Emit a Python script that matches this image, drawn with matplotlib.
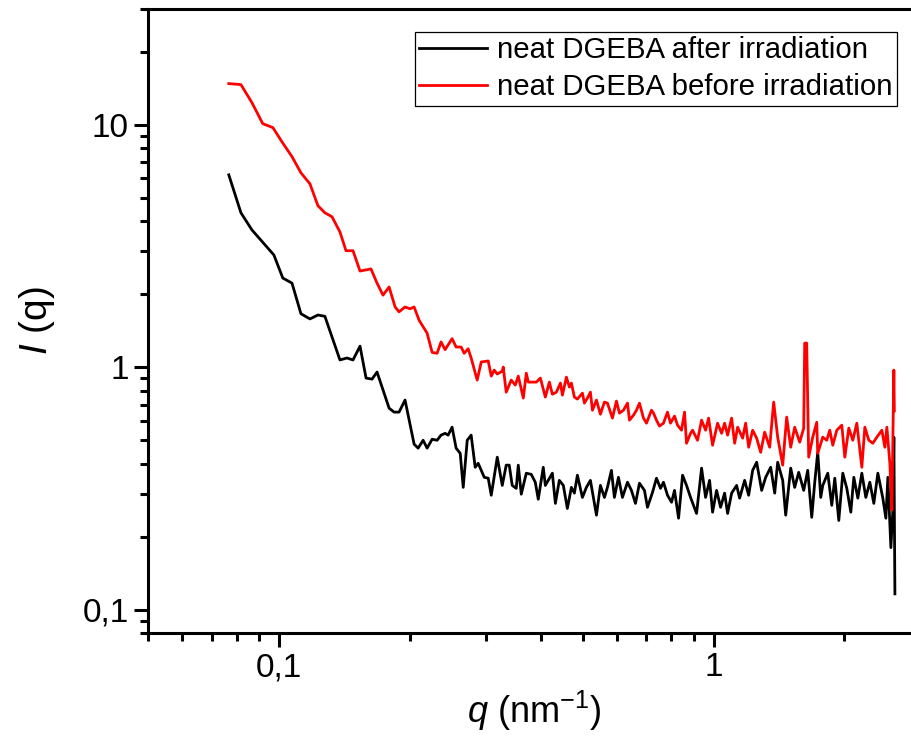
import matplotlib
matplotlib.use('Agg')
import matplotlib.pyplot as plt
import matplotlib.ticker as ticker

plt.rcParams['font.family'] = ['Liberation Sans', 'DejaVu Sans']
plt.rcParams['mathtext.fontset'] = 'custom'
plt.rcParams['mathtext.rm'] = 'Liberation Sans'
plt.rcParams['mathtext.it'] = 'Liberation Sans:italic'

# neat DGEBA after irradiation (black)
q_after = [0.0767, 0.0818, 0.0867, 0.0974, 0.1021, 0.1072, 0.1124, 0.1179, 0.1230, 0.1276,
           0.1325, 0.1382, 0.1434, 0.1481, 0.1537, 0.1587, 0.1638, 0.1682, 0.1793, 0.1841,
           0.1890, 0.1951, 0.2047, 0.2091, 0.2147, 0.2193, 0.2252, 0.2312, 0.2361, 0.2412,
           0.2451, 0.2503, 0.2557, 0.2613, 0.2655, 0.2712, 0.2769, 0.2829, 0.2874, 0.2968,
           0.3031, 0.3080, 0.3180, 0.3265, 0.3334, 0.3388, 0.3442, 0.3516, 0.3554, 0.3611,
           0.3708, 0.3807, 0.3889, 0.3951, 0.4057, 0.4102, 0.4257, 0.4326, 0.4417, 0.4512,
           0.4609, 0.4709, 0.4784, 0.4861, 0.4992, 0.5098, 0.5208, 0.5377, 0.5491, 0.5609,
           0.5699, 0.5821, 0.5913, 0.6041, 0.6171, 0.6338, 0.6472, 0.6612, 0.6753, 0.6934,
           0.7045, 0.7235, 0.7390, 0.7549, 0.7669, 0.7834, 0.8003, 0.8131, 0.8307, 0.8485,
           0.8665, 0.8851, 0.9138, 0.9384, 0.9585, 0.9790, 0.9947, 1.0160, 1.0378, 1.0601,
           1.0771, 1.1003, 1.1298, 1.1479, 1.1787, 1.2041, 1.2300, 1.2563, 1.2900, 1.3178,
           1.3531, 1.3823, 1.4042, 1.4421, 1.4651, 1.5045, 1.5367, 1.5697, 1.6118, 1.6465,
           1.6819, 1.7089, 1.7361, 1.7640, 1.7830, 1.8309, 1.8702, 1.9002, 1.9409, 1.9825,
           2.0252, 2.0686, 2.1017, 2.1469, 2.1928, 2.2398, 2.2878, 2.3368, 2.3871, 2.4508,
           2.4906, 2.5172, 2.5575, 2.5846, 2.5984, 2.6127]
I_after = [6.21, 4.33, 3.68, 2.90, 2.33, 2.22, 1.66, 1.58, 1.64, 1.62,
           1.33, 1.07, 1.09, 1.07, 1.22, 0.901, 0.892, 0.954, 0.677, 0.652,
           0.652, 0.731, 0.481, 0.463, 0.499, 0.463, 0.504, 0.499, 0.524, 0.533,
           0.524, 0.565, 0.463, 0.441, 0.319, 0.499, 0.524, 0.386, 0.401, 0.351,
           0.348, 0.296, 0.425, 0.325, 0.394, 0.394, 0.325, 0.316, 0.394, 0.299,
           0.365, 0.361, 0.335, 0.285, 0.386, 0.325, 0.365, 0.274, 0.341, 0.325,
           0.261, 0.319, 0.302, 0.358, 0.290, 0.319, 0.341, 0.245, 0.325, 0.290,
           0.319, 0.375, 0.290, 0.351, 0.290, 0.335, 0.310, 0.274, 0.332, 0.310,
           0.264, 0.304, 0.348, 0.316, 0.335, 0.296, 0.277, 0.310, 0.238, 0.358,
           0.325, 0.290, 0.249, 0.383, 0.290, 0.341, 0.252, 0.310, 0.264, 0.302,
           0.249, 0.302, 0.325, 0.288, 0.341, 0.296, 0.375, 0.405, 0.310, 0.351,
           0.386, 0.302, 0.405, 0.341, 0.245, 0.383, 0.319, 0.368, 0.310, 0.375,
           0.240, 0.335, 0.445, 0.290, 0.325, 0.365, 0.269, 0.348, 0.233, 0.365,
           0.316, 0.252, 0.351, 0.288, 0.365, 0.290, 0.335, 0.274, 0.365, 0.288,
           0.238, 0.351, 0.180, 0.257, 0.514, 0.116]

# neat DGEBA before irradiation (red)
q_before = [0.0767, 0.0818, 0.0867, 0.0918, 0.0969, 0.1016, 0.1072, 0.1124, 0.1179, 0.1230,
            0.1276, 0.1325, 0.1382, 0.1427, 0.1481, 0.1537, 0.1629, 0.1682, 0.1736, 0.1793,
            0.1851, 0.1890, 0.1951, 0.2003, 0.2047, 0.2102, 0.2193, 0.2252, 0.2312, 0.2361,
            0.2412, 0.2503, 0.2557, 0.2626, 0.2668, 0.2725, 0.2769, 0.2859, 0.2921, 0.3031,
            0.3080, 0.3129, 0.3180, 0.3265, 0.3282, 0.3334, 0.3424, 0.3498, 0.3554, 0.3650,
            0.3708, 0.3748, 0.3911, 0.3995, 0.4102, 0.4190, 0.4257, 0.4349, 0.4443, 0.4490,
            0.4586, 0.4659, 0.4709, 0.4784, 0.4861, 0.4992, 0.5045, 0.5126, 0.5208, 0.5264,
            0.5377, 0.5433, 0.5491, 0.5609, 0.5699, 0.5852, 0.5978, 0.6074, 0.6204, 0.6338,
            0.6405, 0.6542, 0.6647, 0.6753, 0.6898, 0.7009, 0.7198, 0.7274, 0.7390, 0.7508,
            0.7669, 0.7834, 0.7960, 0.8131, 0.8262, 0.8438, 0.8574, 0.8665, 0.8851, 0.8946,
            0.9186, 0.9384, 0.9585, 0.9739, 0.9947, 1.0214, 1.0433, 1.0601, 1.0771, 1.1003,
            1.1180, 1.1359, 1.1664, 1.1851, 1.2041, 1.2300, 1.2563, 1.2832, 1.3107, 1.3459,
            1.3748, 1.4042, 1.4421, 1.4729, 1.5045, 1.5367, 1.5780, 1.6118, 1.6203, 1.6375,
            1.6550, 1.6907, 1.7269, 1.7361, 1.7830, 1.8212, 1.8504, 1.8802, 1.9205, 1.9721,
            2.0038, 2.0468, 2.0907, 2.1355, 2.1928, 2.2280, 2.2757, 2.3246, 2.3744, 2.4382,
            2.4774, 2.5038, 2.5438, 2.5710, 2.5984, 2.6050]
I_before = [14.77, 14.63, 12.33, 10.10, 9.72, 8.51, 7.38, 6.33, 5.70, 4.63,
            4.33, 4.17, 3.61, 3.02, 3.02, 2.49, 2.54, 2.22, 1.98, 2.14,
            1.77, 1.69, 1.77, 1.74, 1.77, 1.56, 1.38, 1.15, 1.14, 1.27,
            1.18, 1.31, 1.21, 1.21, 1.14, 1.19, 1.09, 0.884, 1.05, 1.06,
            0.918, 0.972, 0.936, 0.963, 1.0, 0.788, 0.884, 0.843, 0.918, 0.745,
            0.944, 0.867, 0.867, 0.901, 0.752, 0.867, 0.773, 0.788, 0.859, 0.766,
            0.909, 0.827, 0.859, 0.752, 0.738, 0.781, 0.710, 0.745, 0.788, 0.664,
            0.731, 0.684, 0.639, 0.717, 0.710, 0.616, 0.724, 0.646, 0.664, 0.710,
            0.604, 0.633, 0.664, 0.710, 0.616, 0.587, 0.664, 0.646, 0.604, 0.571,
            0.587, 0.652, 0.587, 0.628, 0.576, 0.549, 0.652, 0.485, 0.533, 0.549,
            0.499, 0.604, 0.549, 0.616, 0.476, 0.587, 0.533, 0.587, 0.524, 0.616,
            0.485, 0.565, 0.509, 0.587, 0.467, 0.549, 0.509, 0.445, 0.539, 0.467,
            0.717, 0.514, 0.394, 0.622, 0.467, 0.565, 0.490, 0.560, 1.256, 1.256,
            0.425, 0.514, 0.592, 0.441, 0.514, 0.499, 0.549, 0.476, 0.549, 0.576,
            0.425, 0.560, 0.499, 0.587, 0.386, 0.565, 0.499, 0.485, 0.514, 0.549,
            0.467, 0.565, 0.401, 0.257, 0.972, 0.66]

labels = ['neat DGEBA after irradiation', 'neat DGEBA before irradiation']


def commaFormat(val, pos):
    s = '%g' % val
    return s.replace('.', ',')


fig = plt.figure(figsize=(9.12, 7.42), dpi=100)
# the right spine sits just outside the picture in the original
ax = fig.add_axes([148 / 912, 109 / 742, 773 / 912, 624 / 742])

ax.plot(q_after, I_after, color='black', lw=2.0, label=labels[0])
ax.plot(q_before, I_before, color='red', lw=2.0, label=labels[1])

ax.set_xscale('log')
ax.set_yscale('log')
ax.set_xlim(0.05, 3)
ax.set_ylim(0.08, 30)

for a in (ax.xaxis, ax.yaxis):
    a.set_major_locator(ticker.LogLocator(base=10))
    a.set_minor_locator(ticker.LogLocator(base=10, subs=range(2, 10)))
    a.set_major_formatter(ticker.FuncFormatter(commaFormat))
    a.set_minor_formatter(ticker.NullFormatter())

ax.tick_params(which='major', direction='out', length=10, width=2.2, labelsize=24, pad=4)
ax.tick_params(which='minor', direction='out', length=6, width=2.2)
ax.tick_params(top=False, right=False)
for sp in ax.spines.values():
    sp.set_linewidth(2.2)

ax.set_xlabel(r'$\mathit{q}$ (nm$^{-1}$)', fontsize=26, labelpad=4)
ax.set_ylabel(r'$\mathit{I}$ (q)', fontsize=28, labelpad=18)

leg = ax.legend(loc='upper right', bbox_to_anchor=(897 / 912, 1 - 32 / 742),
                bbox_transform=fig.transFigure, borderaxespad=0, fontsize=21.2,
                fancybox=False, framealpha=1, edgecolor='black', handlelength=2.3,
                handletextpad=0.35, borderpad=0.15, labelspacing=0.3)
leg.get_frame().set_linewidth(0.9)

plt.savefig('out.png', dpi=100)
